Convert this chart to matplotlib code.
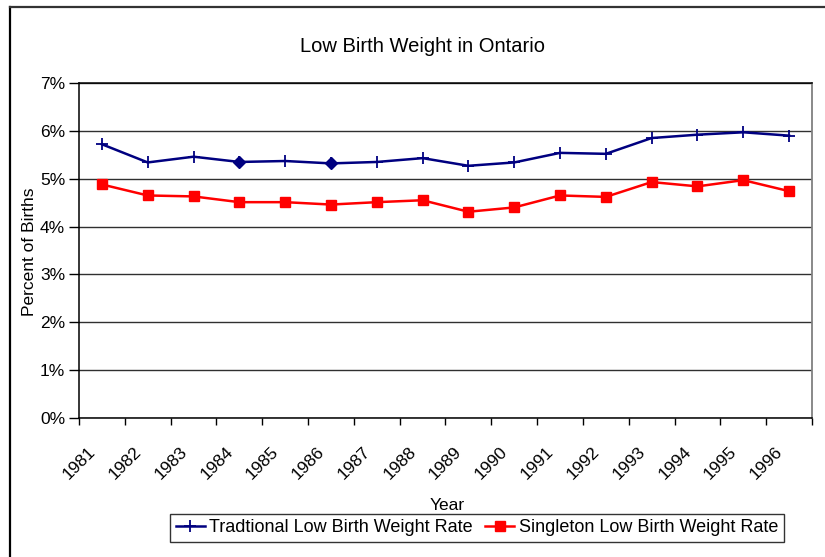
import matplotlib
matplotlib.use("Agg")
import matplotlib.pyplot as plt
import matplotlib.transforms as mtransforms
from matplotlib.ticker import FuncFormatter, FixedLocator
from matplotlib.lines import Line2D

plt.rcParams['font.family'] = ['Liberation Sans', 'DejaVu Sans']

years = ["1981", "1982", "1983", "1984", "1985", "1986", "1987", "1988",
         "1989", "1990", "1991", "1992", "1993", "1994", "1995", "1996"]
traditional = [5.72, 5.34, 5.46, 5.35, 5.37, 5.32, 5.35, 5.43,
               5.27, 5.34, 5.54, 5.52, 5.85, 5.92, 5.97, 5.90]
singleton = [4.88, 4.65, 4.63, 4.51, 4.51, 4.46, 4.51, 4.55,
             4.31, 4.40, 4.65, 4.62, 4.93, 4.84, 4.97, 4.74]
diamond_idx = [3, 5]

title = "Low Birth Weight in Ontario"
xlabel = "Year"
ylabel = "Percent of Births"
label_trad = "Tradtional Low Birth Weight Rate"
label_single = "Singleton Low Birth Weight Rate"

W, H = 825, 557
fig = plt.figure(figsize=(W / 100, H / 100), dpi=100)
fig.patch.set_facecolor("white")

# outer chart frame
fig.add_artist(Line2D([10 / W, 10 / W], [0, 1 - 7 / H], transform=fig.transFigure,
                      color="black", lw=1.6))
fig.add_artist(Line2D([10 / W, 1], [1 - 7 / H, 1 - 7 / H], transform=fig.transFigure,
                      color="#333333", lw=1.6))

left, right, top, bottom = 79, 812, 83, 418
ax = fig.add_axes([left / W, 1 - bottom / H, (right - left) / W, (bottom - top) / H])

n = len(years)
x = list(range(n))
ax.set_xlim(-0.5, n - 0.5)
ax.set_ylim(0, 7)

ax.yaxis.set_major_locator(FixedLocator(range(0, 8)))
ax.yaxis.set_major_formatter(FuncFormatter(lambda v, p: "%d%%" % v))
ax.grid(axis="y", color="#303030", lw=1.0)
ax.set_axisbelow(True)

ax.xaxis.set_major_locator(FixedLocator([i - 0.5 for i in range(n + 1)]))
ax.set_xticklabels([])
ax.tick_params(axis="x", length=5, width=1, direction="out", color="black")
ax.tick_params(axis="y", length=7, width=1, direction="out", color="black",
               labelsize=12.5, pad=3)

for s in ["left", "bottom", "top"]:
    ax.spines[s].set_color("black")
    ax.spines[s].set_linewidth(1.1)
ax.spines["right"].set_color("#808080")
ax.spines["right"].set_linewidth(1.3)

# series
ax.plot(x, traditional, color="#000080", lw=1.8, marker="+", ms=9, mew=1.3,
        label=label_trad, zorder=3)
ax.plot([x[i] for i in diamond_idx], [traditional[i] for i in diamond_idx],
        ls="none", marker="D", ms=6, color="#000080", zorder=4, label="_nolegend_")
ax.plot(x, singleton, color="#FF0000", lw=1.8, marker="s", ms=7,
        label=label_single, zorder=3)

# rotated category labels
offset = mtransforms.ScaledTranslation(-9 / 100, -31 / 100, fig.dpi_scale_trans)
trans = mtransforms.blended_transform_factory(ax.transData, ax.transAxes) + offset
for i, yr in enumerate(years):
    ax.text(i, 0, yr, transform=trans, rotation=45, rotation_mode="anchor",
            ha="right", va="center", fontsize=12.5, clip_on=False)

fig.text(422.5 / W, 1 - 46 / H, title, ha="center", va="center", fontsize=14.5)
fig.text(447 / W, 1 - 506 / H, xlabel, ha="center", va="center", fontsize=12.5)
fig.text(30 / W, 1 - 252 / H, ylabel, ha="center", va="center", rotation=90,
         fontsize=12.5)

handles = [Line2D([], [], color="#000080", lw=1.8, marker="+", ms=9, mew=1.3),
           Line2D([], [], color="#FF0000", lw=1.8, marker="s", ms=7)]
leg = fig.legend(handles, [label_trad, label_single], loc="center",
                 bbox_to_anchor=(477 / W, 1 - 528 / H), ncol=2, fontsize=13,
                 frameon=True, fancybox=False, shadow=False, edgecolor="black",
                 handlelength=1.6, handletextpad=0.25, columnspacing=0.7,
                 borderpad=0.3, borderaxespad=0)
leg.get_frame().set_linewidth(1.0)

fig.savefig("out.png", dpi=100)
